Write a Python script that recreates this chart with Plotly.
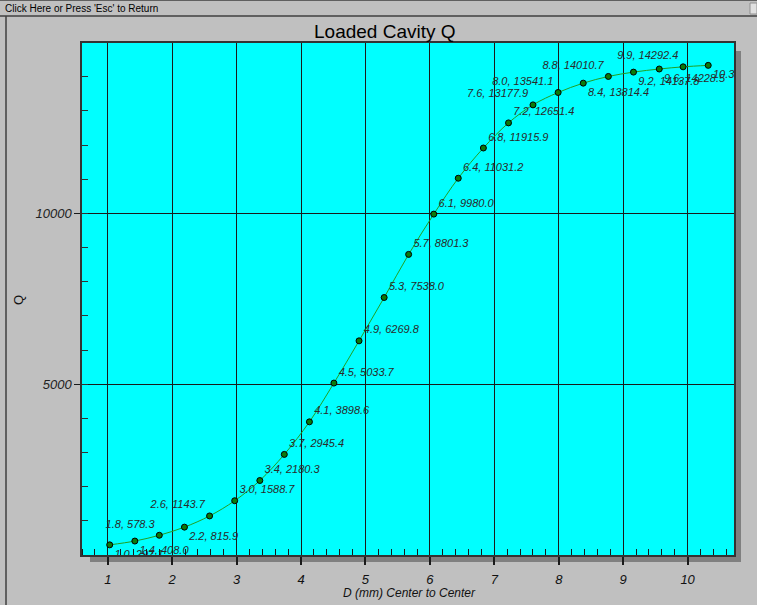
import plotly.graph_objects as go

# ---- data ----
d_mm = [1.03, 1.42, 1.80, 2.19, 2.58, 2.97, 3.36, 3.74, 4.13, 4.51, 4.90, 5.29, 5.67,
        6.06, 6.44, 6.83, 7.22, 7.60, 7.99, 8.38, 8.77, 9.16, 9.56, 9.93, 10.32]
q_vals = [297.1, 408.0, 578.3, 815.9, 1143.7, 1588.7, 2180.3, 2945.4, 3898.6, 5033.7,
          6269.8, 7538.0, 8801.3, 9980.0, 11031.2, 11915.9, 12651.4, 13177.9, 13541.1,
          13814.4, 14010.7, 14137.8, 14228.5, 14292.4, 14335.0]
label_pos = ["bottom right", "bottom right", "top left", "bottom right", "top left",
             "top right", "top right", "top right", "top right", "top right",
             "top right", "top right", "top right", "top right", "top right",
             "top right", "top right", "top left", "top left", "bottom right",
             "top left", "bottom right", "bottom right", "top left", "bottom right"]
x_ticks = [1, 2, 3, 4, 5, 6, 7, 8, 9, 10]
y_ticks = [5000, 10000]

title = "Loaded Cavity Q"
x_title = "D (mm) Center to Center"
y_title = "Q"
bar_text = "Click Here or Press 'Esc' to Return"

# ---- geometry (pixels) ----
W, H = 757, 605
L, R, T, B = 82, 734, 43, 555


def px(x):
    return (x - L) / (R - L)


def py(y):
    return (B - y) / (B - T)


FONT = "Arial, Liberation Sans, sans-serif"
labels = [f"{x:.1f}, {y:.1f}" for x, y in zip(d_mm, q_vals)]

fig = go.Figure()
fig.add_trace(go.Scatter(
    x=d_mm, y=q_vals, mode="lines+markers+text",
    text=labels, textposition=label_pos,
    textfont=dict(family=FONT, size=11, color="#2a2a2a", style="italic"),
    line=dict(color="#22a022", width=1, shape="spline"),
    marker=dict(size=6, color="#0b7a0b", line=dict(color="#000000", width=1)),
    hoverinfo="skip", showlegend=False, cliponaxis=True,
))

shapes = [
    # shadow
    dict(type="rect", xref="paper", yref="paper", layer="below",
         x0=px(90), x1=px(741), y0=py(562), y1=py(51),
         fillcolor="#808080", line=dict(width=0)),
    # plot area
    dict(type="rect", xref="paper", yref="paper", layer="below",
         x0=0, x1=1, y0=0, y1=1, fillcolor="#00ffff", line=dict(width=0)),
    # top bar separator line
    dict(type="line", xref="paper", yref="paper", layer="above",
         x0=px(0), x1=px(757), y0=py(16), y1=py(16),
         line=dict(color="#404040", width=1.5)),
    # top edge line
    dict(type="line", xref="paper", yref="paper", layer="above",
         x0=px(0), x1=px(757), y0=py(0.5), y1=py(0.5),
         line=dict(color="#606060", width=1)),
    # left border
    dict(type="line", xref="paper", yref="paper", layer="above",
         x0=px(6), x1=px(6), y0=py(16), y1=py(605),
         line=dict(color="#404040", width=1.5)),
    # close box
    dict(type="rect", xref="paper", yref="paper", layer="above",
         x0=px(750), x1=px(757), y0=py(14), y1=py(3),
         fillcolor="#e0e0e0", line=dict(color="#909090", width=1)),
]

annotations = [
    dict(text=title, xref="paper", yref="paper", x=px(385), y=py(31),
         xanchor="center", yanchor="middle", showarrow=False,
         font=dict(family=FONT, size=19, color="#000000")),
    dict(text=bar_text, xref="paper", yref="paper", x=px(3), y=py(8),
         xanchor="left", yanchor="middle", showarrow=False,
         font=dict(family=FONT, size=10, color="#000000")),
    dict(text=x_title, xref="paper", yref="paper", x=px(409), y=py(593),
         xanchor="center", yanchor="middle", showarrow=False,
         font=dict(family=FONT, size=12, color="#111111", style="italic")),
    dict(text=y_title, xref="paper", yref="paper", x=px(18), y=py(300),
         xanchor="center", yanchor="middle", showarrow=False, textangle=-90,
         font=dict(family=FONT, size=13, color="#111111")),
]

fig.update_layout(
    width=W, height=H,
    margin=dict(l=L, r=W - R, t=T, b=H - B, pad=0),
    paper_bgcolor="#c0c0c0", plot_bgcolor="rgba(0,0,0,0)",
    shapes=shapes, annotations=annotations,
    hovermode=False,
)

fig.update_xaxes(
    range=[0.6, 10.72], tickmode="array", tickvals=x_ticks,
    ticktext=[str(v) for v in x_ticks],
    ticks="outside", ticklen=8, tickwidth=1.5, tickcolor="#1a1a1a",
    ticklabelstandoff=4,
    tickfont=dict(family=FONT, size=13, color="#111111", style="italic"),
    showgrid=True, gridcolor="#1a1a1a", gridwidth=1.2,
    showline=True, linecolor="#333333", linewidth=1.5, mirror=True,
    zeroline=False,
    minor=dict(tickmode="linear", tick0=0, dtick=0.2, ticks="inside", ticklen=6,
               tickcolor="#1a1a1a", tickwidth=1, showgrid=False),
)
fig.update_yaxes(
    range=[0, 14990], tickmode="array", tickvals=y_ticks, tickformat="d",
    ticks="outside", ticklen=6, tickwidth=1, tickcolor="#1a1a1a",
    tickfont=dict(family=FONT, size=13, color="#222222", style="italic"),
    showgrid=True, gridcolor="#1a1a1a", gridwidth=1.2,
    showline=True, linecolor="#333333", linewidth=1.5, mirror=True,
    zeroline=False,
    minor=dict(tickmode="linear", tick0=0, dtick=1000, ticks="inside", ticklen=6,
               tickcolor="#333333", tickwidth=1, showgrid=False),
)

fig.write_html(
    "out.html",
    config={"displayModeBar": False},
    post_script="document.body.style.margin='0';document.body.style.overflow='hidden';",
)
